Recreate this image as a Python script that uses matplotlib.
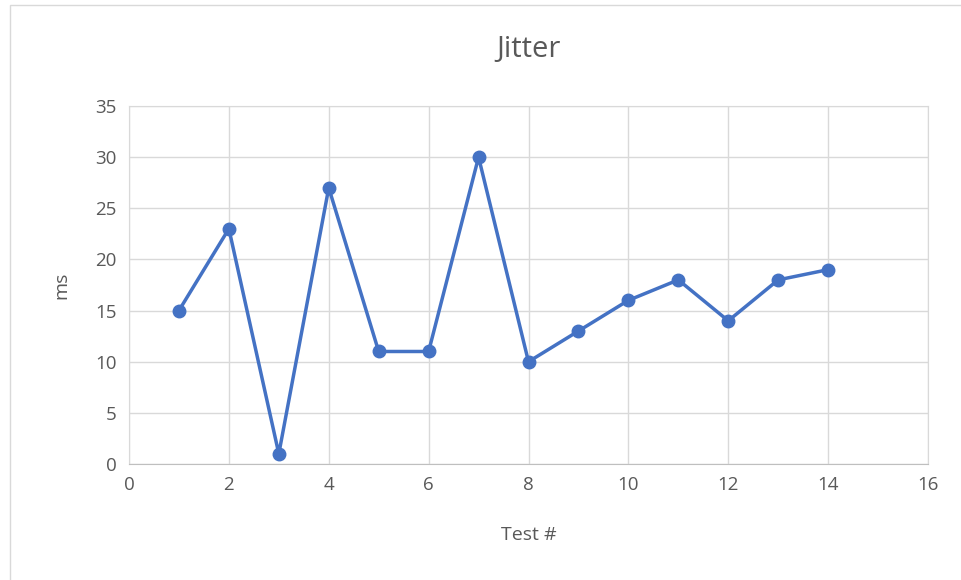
import matplotlib.pyplot as plt
from matplotlib.patches import Rectangle

plt.rcParams['font.family'] = ['Open Sans', 'DejaVu Sans']

test_num = [1, 2, 3, 4, 5, 6, 7, 8, 9, 10, 11, 12, 13, 14]
jitter_ms = [15, 23, 1, 27, 11, 11, 30, 10, 13, 16, 18, 14, 18, 19]

x_ticks = [0, 2, 4, 6, 8, 10, 12, 14, 16]
y_ticks = [0, 5, 10, 15, 20, 25, 30, 35]

fig = plt.figure(figsize=(9.62, 5.80), dpi=100)
ax = fig.add_axes([129/962, 1 - 464/580, (928 - 129)/962, (464 - 106)/580])

# chart border
fig.patches.append(Rectangle((10/962, -0.01), 1.0, 1 - 5/580 + 0.01, transform=fig.transFigure,
                             fill=False, edgecolor='#d9d9d9', linewidth=1))

ax.plot(test_num, jitter_ms, color='#4472c4', linewidth=2.5, marker='o', markersize=9, zorder=3)

ax.set_xlim(0, 16)
ax.set_ylim(0, 35)
ax.set_xticks(x_ticks)
ax.set_yticks(y_ticks)
ax.grid(True, color='#d9d9d9', linewidth=1)
ax.set_axisbelow(True)
for s in ['top', 'right', 'left']:
    ax.spines[s].set_color('#d9d9d9')
ax.spines['bottom'].set_color('#bfbfbf')
ax.tick_params(length=0, labelsize=13.5, colors='#595959', pad=9)

ax.set_title('Jitter', fontsize=21, color='#595959', pad=35)
ax.set_xlabel('Test #', fontsize=14, color='#595959', labelpad=23)
ax.set_ylabel('ms', fontsize=14, color='#595959', labelpad=18)

fig.savefig('out.png', dpi=100)
